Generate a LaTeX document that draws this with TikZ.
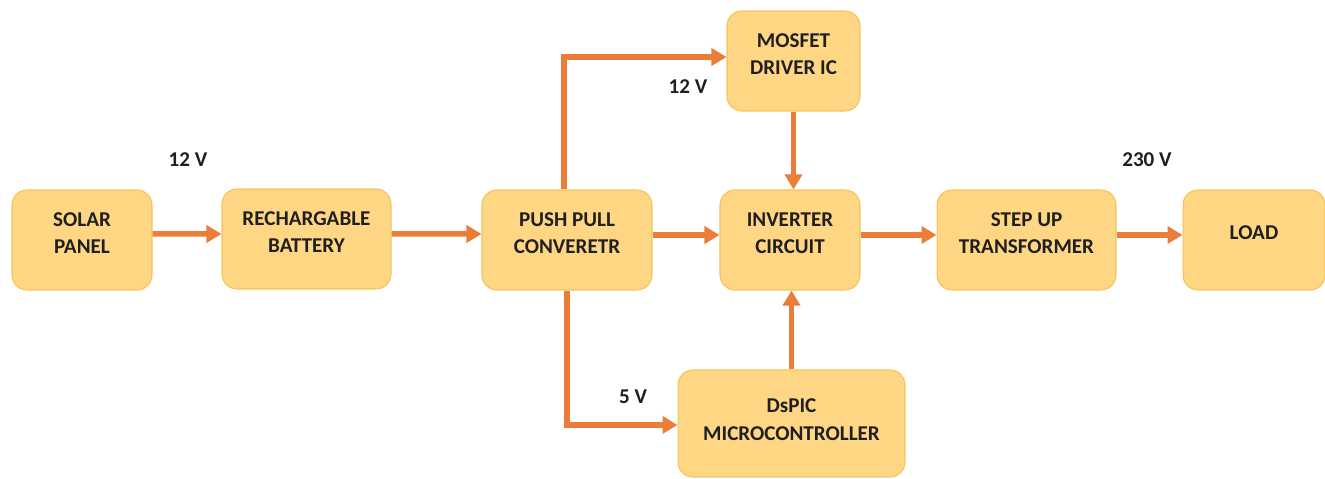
\documentclass[tikz,border=0pt]{standalone}
\usepackage{fontspec}
\setmainfont{Carlito}
\usetikzlibrary{arrows.meta}
\definecolor{blockfill}{HTML}{FFD683}
\definecolor{blockline}{HTML}{F3C35A}
\definecolor{wire}{HTML}{EB7D3A}
\definecolor{ink}{HTML}{1F1F1F}
\tikzset{
    block/.style={draw=blockline, fill=blockfill, rounded corners=0.3cm, line width=0.6pt,
        text=ink, font=\fontsize{12}{15.6}\selectfont\bfseries, align=center,
        minimum height=2cm, text depth=0.28cm},
    feed/.style={draw=wire, line width=0.11cm, -{Triangle[length=0.3cm,width=0.34cm]}},
    volt/.style={text=ink, font=\fontsize{12}{14}\selectfont\bfseries}
}
\begin{document}
\begin{tikzpicture}[x=0.02cm, y=-0.02cm]
    \useasboundingbox (0,0) rectangle (1325,479);
    % main chain
    \node[block, minimum width=2.8cm] (solar) at (82,240) {SOLAR\\PANEL};
    \node[block, minimum width=3.38cm] (battery) at (306.5,239) {RECHARGABLE\\BATTERY};
    \node[block, minimum width=3.4cm] (push) at (567,240) {PUSH PULL\\CONVERETR};
    \node[block, minimum width=2.8cm] (inverter) at (790,240) {INVERTER\\CIRCUIT};
    \node[block, minimum width=3.58cm] (stepup) at (1026.5,240) {STEP UP\\TRANSFORMER};
    \node[block, minimum width=2.84cm] (load) at (1254,240) {LOAD};
    % side blocks
    \node[block, minimum width=2.66cm] (mosfet) at (793.5,61) {MOSFET\\DRIVER IC};
    \node[block, minimum width=4.54cm, minimum height=2.14cm, text depth=0.16cm] (dspic) at (791.5,423.5) {DsPIC\\MICROCONTROLLER};
    % voltages
    \node[volt] (vbat) at (188,160) {12 V};
    \node[volt] (vdrv) at (688,87) {12 V};
    \node[volt] (vmcu) at (633,397) {5 V};
    \node[volt] (vout) at (1147,160) {230 V};

    \draw[feed] ([yshift=0.12cm]solar.east) -- ([yshift=0.1cm]battery.west);
    \draw[feed] ([yshift=0.1cm]battery.east) -- ([yshift=0.12cm]push.west);
    \draw[feed] ([yshift=0.1cm]push.east) -- ([yshift=0.1cm]inverter.west);
    \draw[feed] ([yshift=0.1cm]inverter.east) -- ([yshift=0.1cm]stepup.west);
    \draw[feed] ([yshift=0.1cm]stepup.east) -- ([yshift=0.1cm]load.west);
    \draw[feed] ([xshift=-0.06cm]push.north) |- ([yshift=0.08cm]mosfet.west);
    \draw[feed] (push.south) |- ([yshift=-0.03cm]dspic.west);
    \draw[feed] (mosfet.south) -- (mosfet.south |- inverter.north);
    \draw[feed] (dspic.north) -- (dspic.north |- inverter.south);
\end{tikzpicture}
\end{document}
